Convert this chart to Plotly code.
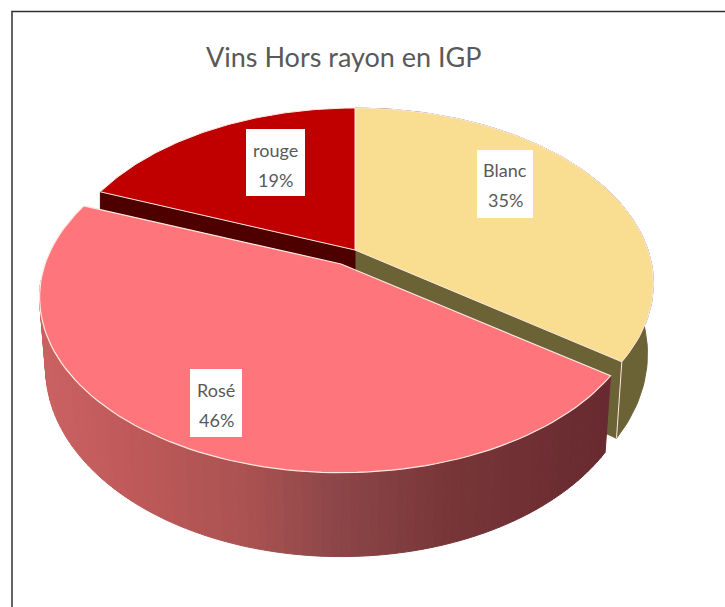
import math
import plotly.graph_objects as go

# ---- data ----
categories = ["Blanc", "Rosé", "rouge"]
values = [35, 46, 19]
title_text = "Vins Hors rayon en IGP"

# ---- style ----
W, H = 725, 607
top_colors = {"Blanc": "#f9dd91", "Rosé": "#fe767c", "rouge": "#c00000"}
wall_colors = {"Blanc": "#6b6336", "rouge": "#4e0000"}
rose_stops = [(41, (203, 98, 98)), (130, (192, 90, 90)), (250, (170, 82, 82)),
              (340, (140, 70, 72)), (450, (120, 54, 56)), (610, (104, 42, 48))]
edge = "#ffe9e2"
text_col = "#595959"
FONT = "Lato, sans-serif"

# ---- projection of the tilted disc ----
R, R2, K, DEPTH, SHRINK = 293, 169, 0.19, 68, 0.98
apex = {"Blanc": (355, 250), "rouge": (355, 250), "Rosé": (341, 264)}
scale = {"Blanc": 1.0, "rouge": 1.0, "Rosé": 1.01}
# label box: x0, x1, y0, y1, first line centre, second line centre
label_box = {"Blanc": (477, 533, 150, 218, 170, 200),
             "Rosé": (190, 242, 369, 437, 390, 420),
             "rouge": (246, 305, 129, 196, 150, 180)}


def pt(X, Y, a, low=False, m=1.0):
    s = 1 / (1 - K * Y)
    if low:
        return a[0] + m * SHRINK * R * X * s, a[1] + R2 * Y * s + DEPTH * s
    return a[0] + m * R * X * s, a[1] + R2 * Y * s


def arc(t0, t1, a, low=False, n=90, m=1.0):
    out = []
    for i in range(n + 1):
        t = t0 + (t1 - t0) * i / n
        out.append(pt(math.sin(t), -math.cos(t), a, low, m))
    return out


def poly(pts, fill, line=None, width=1):
    xs = [p[0] for p in pts] + [pts[0][0]]
    ys = [p[1] for p in pts] + [pts[0][1]]
    return go.Scatter(x=xs, y=ys, mode="lines", fill="toself", fillcolor=fill,
                      line=dict(color=line or fill, width=width), hoverinfo="skip", showlegend=False)


def stop_color(x):
    for (x0, c0), (x1, c1) in zip(rose_stops, rose_stops[1:]):
        if x <= x1:
            f = max(0, (x - x0) / (x1 - x0))
            return "rgb(%d,%d,%d)" % tuple(c0[i] + (c1[i] - c0[i]) * f for i in range(3))
    return "rgb(%d,%d,%d)" % rose_stops[-1][1]


# slice angles, clockwise from the top
total = sum(values)
angles = {}
start = 0.0
for c, v in zip(categories, values):
    angles[c] = (start, start + 2 * math.pi * v / total)
    start = angles[c][1]

fig = go.Figure()

# Blanc: outer wall and cut face
a = apex["Blanc"]
t0, t1 = angles["Blanc"]
top = arc(t0, t1, a)
low = arc(t0, t1, a, low=True)
fig.add_trace(poly(top + low[::-1], wall_colors["Blanc"]))
fig.add_trace(poly([a, top[-1], low[-1], (a[0], a[1] + DEPTH)], wall_colors["Blanc"]))
fig.add_trace(go.Scatter(x=[top[-1][0], low[-1][0]], y=[top[-1][1], low[-1][1]], mode="lines",
                         line=dict(color=edge, width=1), hoverinfo="skip", showlegend=False))

# rouge: cut face
a = apex["rouge"]
t0, t1 = angles["rouge"]
top = arc(t0, t1, a)
fig.add_trace(poly([a, top[0], (top[0][0], top[0][1] + DEPTH), (a[0], a[1] + DEPTH)], wall_colors["rouge"]))

# Tops of Blanc and rouge
for c in ["Blanc", "rouge"]:
    t0, t1 = angles[c]
    fig.add_trace(poly([apex[c]] + arc(t0, t1, apex[c]), top_colors[c], edge, 1))

# Rosé: shaded outer wall, then top
a = apex["Rosé"]
m = scale["Rosé"]
t0, t1 = angles["Rosé"]
n_wall = 110
for i in range(n_wall):
    ta = t0 + (t1 - t0) * i / n_wall
    tb = t0 + (t1 - t0) * (i + 1) / n_wall
    q = [pt(math.sin(ta), -math.cos(ta), a, False, m), pt(math.sin(tb), -math.cos(tb), a, False, m),
         pt(math.sin(tb), -math.cos(tb), a, True, m), pt(math.sin(ta), -math.cos(ta), a, True, m)]
    if q[0][1] < a[1] + 20 and q[0][0] < a[0]:
        continue  # back part of the rim stays hidden below the top
    fig.add_trace(poly(q, stop_color(sum(p[0] for p in q) / 4)))
fig.add_trace(poly([a] + arc(t0, t1, a, m=m), top_colors["Rosé"], edge, 1.2))

annotations = [dict(x=344, y=56, text=title_text, showarrow=False, xanchor="center", yanchor="middle",
                    font=dict(family=FONT, size=27, color=text_col))]
shapes = [dict(type="rect", x0=12, y0=11.5, x1=W + 10, y1=H + 10, line=dict(color="#303030", width=1.5))]
for c, v in zip(categories, values):
    x0, x1, y0, y1, y_a, y_b = label_box[c]
    shapes.append(dict(type="rect", x0=x0, x1=x1, y0=y0, y1=y1, fillcolor="white",
                       line=dict(width=0), layer="above"))
    for txt, yy in ((c, y_a), (f"{v}%", y_b)):
        annotations.append(dict(x=(x0 + x1) / 2, y=yy, text=txt, showarrow=False, xanchor="center",
                                yanchor="middle", font=dict(family=FONT, size=18, color=text_col)))

fig.update_layout(
    width=W, height=H, margin=dict(l=0, r=0, t=0, b=0), paper_bgcolor="white", plot_bgcolor="white",
    xaxis=dict(range=[0, W], visible=False, fixedrange=True),
    yaxis=dict(range=[H, 0], visible=False, fixedrange=True),
    annotations=annotations, shapes=shapes, showlegend=False,
)
fig.write_html("out.html", config={"displayModeBar": False},
               post_script="document.body.style.margin='0';document.body.style.overflow='hidden';")
